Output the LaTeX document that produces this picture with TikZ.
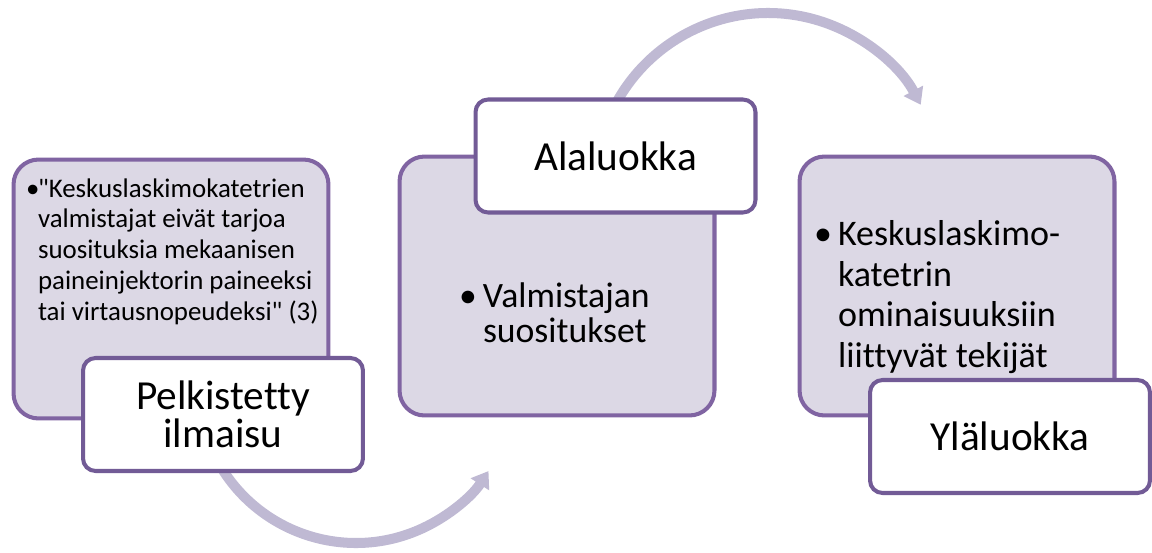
\documentclass[tikz,border=0pt]{standalone}
\usepackage{fontspec}
\setmainfont{Carlito}[Ligatures={NoCommon,TeXOff}]
\usetikzlibrary{arrows.meta}
\definecolor{boxfill}{RGB}{220,216,229}
\definecolor{boxline}{RGB}{128,100,162}
\definecolor{tagline}{RGB}{114,91,150}
\definecolor{flowcol}{RGB}{191,185,211}
\newcommand{\blt}[1]{\makebox[#1][l]{•}}
\begin{document}
\begin{tikzpicture}[x=0.02cm, y=0.02cm, line width=2.3pt,
    main/.style = {draw=boxline, fill=boxfill, rounded corners=0.5cm, minimum width=6.3cm, minimum height=5.18cm},
    tag/.style = {draw=tagline, fill=white, rounded corners=0.25cm, minimum width=5.6cm, minimum height=2.26cm, align=center, font=\fontsize{23.5}{21.6}\selectfont},
    txt/.style = {anchor=base west, align=left, inner sep=0pt},
    flow/.style = {draw=flowcol, line width=5.7pt, -{Triangle[width=12pt, length=9pt]}}]
    \useasboundingbox (0,0) rectangle (1152,552);
    % arrows between the steps
    \coordinate (c1) at (356,167);
    \coordinate (c2) at (768,366);
    \draw[flow] (c1) ++(205:3.16cm) arc[start angle=205, end angle=327, radius=3.16cm];
    \draw[flow] (c2) ++(160:3.46cm) arc[start angle=160, end angle=28, radius=3.46cm];
    % steps
    \node[main] (1) at (171,263) {};
    \node[main] (2) at (557,266) {};
    \node[main] (3) at (957,266) {};
    \node[txt, font=\fontsize{15.3}{17.5}\selectfont] (1x) at (24,232) {\blt{0.24cm}"Keskuslaskimokatetrien\\\hspace*{0.24cm}valmistajat eivät tarjoa\\\hspace*{0.24cm}suosituksia mekaanisen\\\hspace*{0.24cm}paineinjektorin paineeksi\\\hspace*{0.24cm}tai virtausnopeudeksi" (3)};
    \node[txt, font=\fontsize{20.3}{19.9}\selectfont] (2x) at (457,210) {\blt{0.48cm}Valmistajan\\\hspace*{0.48cm}suositukset};
    \node[txt, font=\fontsize{20.5}{23}\selectfont] (3x) at (812,185) {\blt{0.48cm}Keskuslaskimo-\\\hspace*{0.48cm}katetrin\\\hspace*{0.48cm}ominaisuuksiin\\\hspace*{0.48cm}liittyvät tekijät};
    % labels
    \node[tag] (A) at (223,137.5) {Pelkistetty\\ilmaisu};
    \node[tag] (B) at (615.5,396) {Alaluokka};
    \node[tag] (C) at (1010,115.5) {\raisebox{-0.37cm}{Yläluokka}};
\end{tikzpicture}
\end{document}
